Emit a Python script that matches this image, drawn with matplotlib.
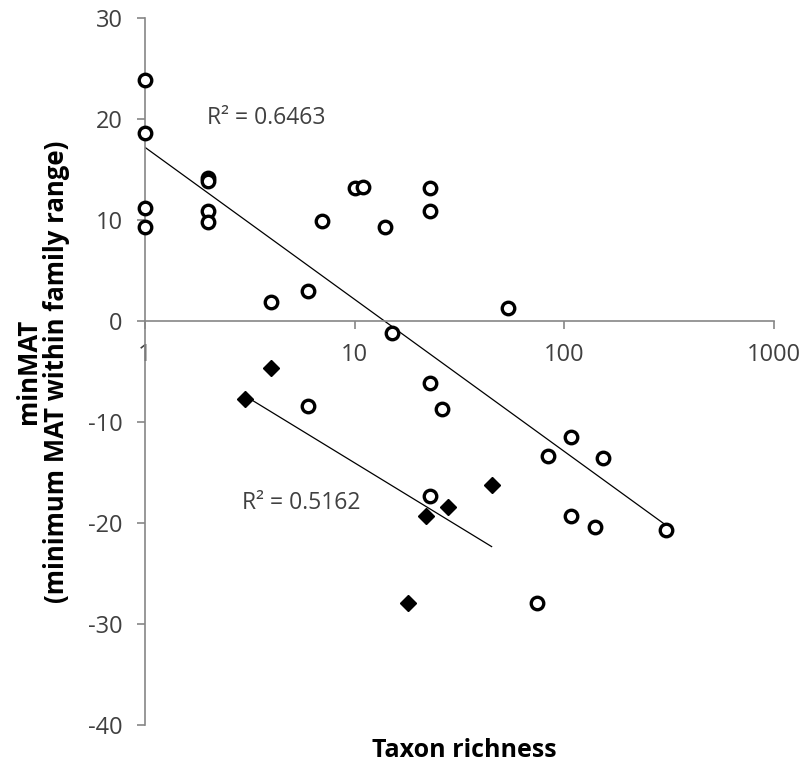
import numpy as np
import matplotlib.pyplot as plt

# open circles
rich_open = [1, 1, 1, 1, 2, 2, 2, 2, 4, 6, 7, 10, 11, 14, 15, 23, 23, 54,
             6, 23, 26, 108, 84, 153, 23, 108, 140, 304, 74]
minmat_open = [23.9, 18.6, 11.2, 9.3, 14.2, 13.9, 10.9, 9.8, 1.9, 3.0, 9.9, 13.2, 13.3, 9.3, -1.2, 13.2, 10.9, 1.25,
               -8.4, -6.1, -8.7, -11.5, -13.4, -13.6, -17.3, -19.3, -20.4, -20.7, -27.9]

# filled diamonds
rich_fill = [3, 4, 22, 28, 45, 18]
minmat_fill = [-7.7, -4.65, -19.3, -18.4, -16.2, -27.9]

r2_labels = ['R\u00b2 = 0.6463', 'R\u00b2 = 0.5162']

plt.rcParams['font.family'] = ['Open Sans', 'DejaVu Sans']
plt.rcParams['axes.unicode_minus'] = False

fig = plt.figure(figsize=(8.04, 7.65), dpi=100)
ax = fig.add_axes([0.1803, 0.0523, 0.7824, 0.9242])

axis_col = '#868686'
text_col = '#404040'


def log_trend(x, y):
    # excel style logarithmic trendline over the data range
    x = np.asarray(x, float)
    y = np.asarray(y, float)
    b, a = np.polyfit(np.log(x), y, 1)
    xs = np.logspace(np.log10(x.min()), np.log10(x.max()), 50)
    return xs, a + b * np.log(xs)


xs, ys = log_trend(rich_open, minmat_open)
ax.plot(xs, ys, color='black', lw=0.9, zorder=2)
xs, ys = log_trend(rich_fill, minmat_fill)
ax.plot(xs, ys, color='black', lw=0.9, zorder=2)

ax.plot(rich_open, minmat_open, 'o', ms=9, mfc='white', mec='black', mew=2.4,
        ls='none', zorder=3, clip_on=False)
ax.plot(rich_fill, minmat_fill, 'D', ms=8.5, mfc='black', mec='black',
        ls='none', zorder=3)

ax.set_xscale('log')
ax.set_xlim(1, 1000)
ax.set_ylim(-40, 30)
ax.set_xticks([1, 10, 100, 1000])
ax.set_xticklabels(['1', '10', '100', '1000'])
ax.xaxis.set_minor_locator(plt.NullLocator())
ax.set_yticks(range(-40, 31, 10))

ax.spines['top'].set_visible(False)
ax.spines['right'].set_visible(False)
ax.spines['bottom'].set_position(('data', 0))
for s in ('left', 'bottom'):
    ax.spines[s].set_color(axis_col)
    ax.spines[s].set_linewidth(1.2)

ax.tick_params(axis='both', direction='out', length=6, width=1.2, color=axis_col,
               labelsize=17, labelcolor=text_col)
ax.tick_params(axis='y', pad=10)
ax.tick_params(axis='x', pad=10)

ax.text(0.0986, 0.8586, r2_labels[0], transform=ax.transAxes, fontsize=16.5,
        color=text_col, va='center', ha='left')
ax.text(0.1537, 0.314, r2_labels[1], transform=ax.transAxes, fontsize=16.5,
        color=text_col, va='center', ha='left')

fig.text(0.578, 0.019, 'Taxon richness', fontsize=18, fontweight='bold',
         ha='center', va='center')
fig.text(0.053, 0.514, 'minMAT\n(minimum MAT within family range)', fontsize=18.5,
         fontweight='bold', rotation=90, ha='center', va='center',
         multialignment='center', linespacing=1.05)

fig.savefig('out.png', dpi=100)
